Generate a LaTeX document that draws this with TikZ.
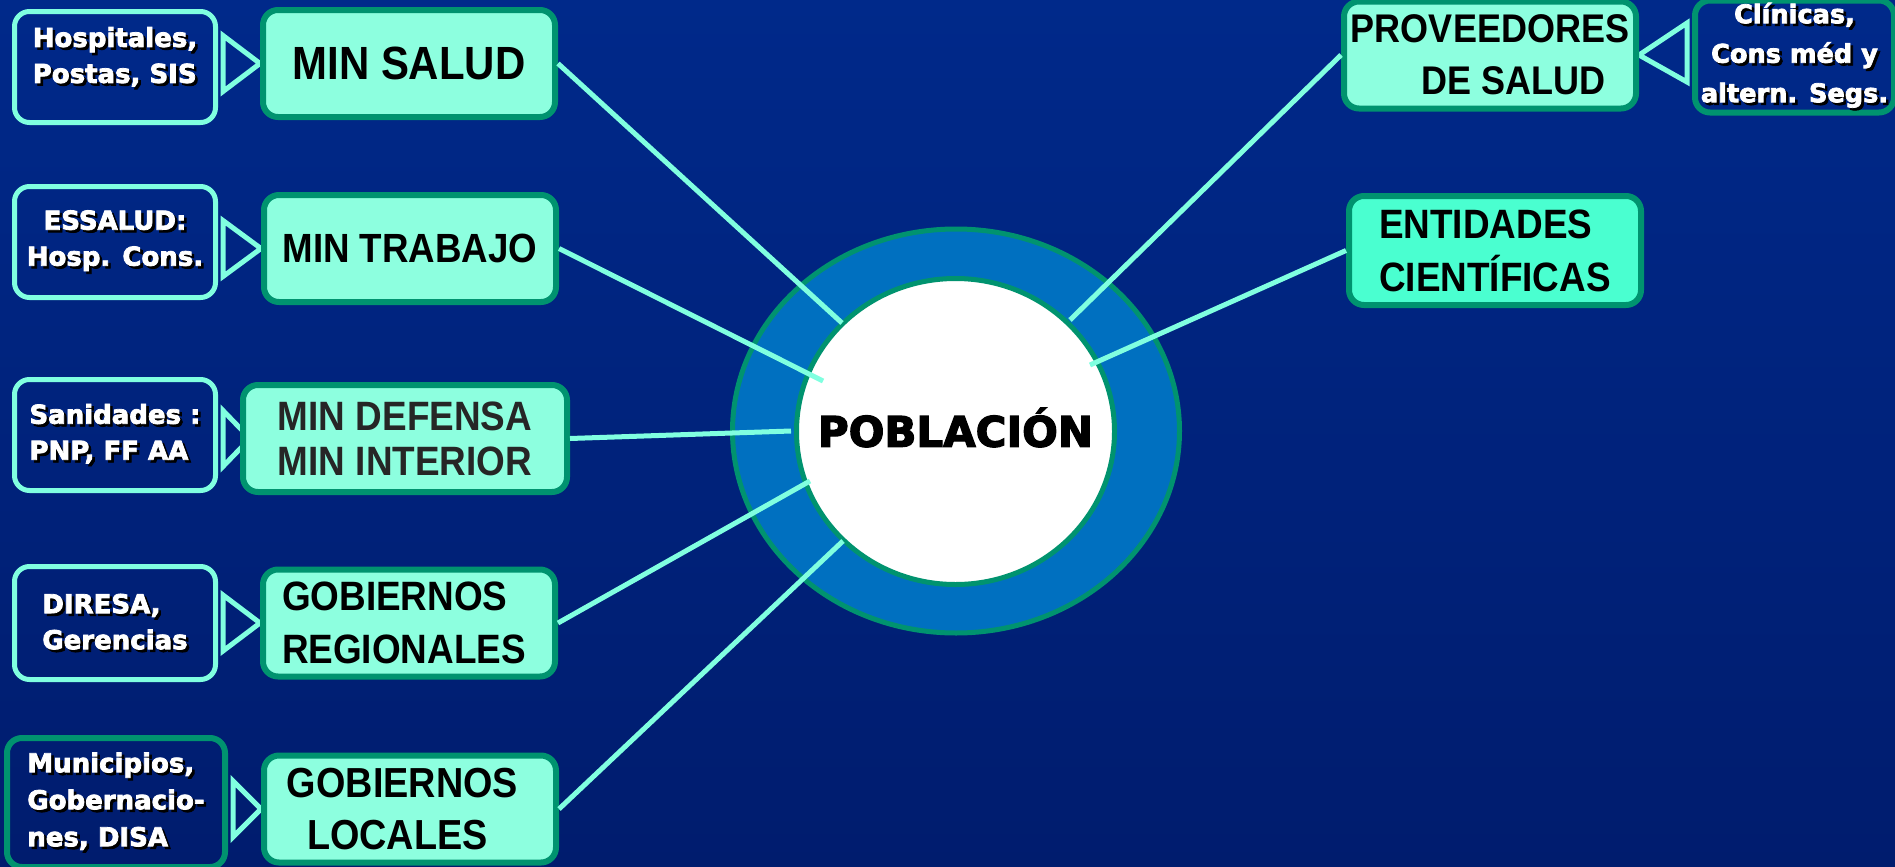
\documentclass[tikz,border=0pt]{standalone}
\usepackage{fontspec}
\setmainfont{Liberation Sans}
\newfontfamily\boxfont[FakeStretch=0.9]{Liberation Sans}
\newfontfamily\heavyfont[FakeBold=3,BoldFeatures={FakeBold=3}]{DejaVu Sans}
\usetikzlibrary{positioning,calc,shapes.geometric}

\definecolor{bgtop}{HTML}{00298A}
\definecolor{bgmid}{HTML}{003399}
\definecolor{bgbot}{HTML}{001C6E}
\definecolor{aqua}{HTML}{8DFFDF}
\definecolor{aquadeep}{HTML}{4AFFD0}
\definecolor{edge}{HTML}{00936F}
\definecolor{cyanline}{HTML}{80FFE0}
\definecolor{ring}{HTML}{0070C0}
\definecolor{darktxt}{HTML}{262626}

\pgfdeclarelayer{bg}
\pgfdeclarelayer{tri}
\pgfsetlayers{bg,tri,main}

\newcommand{\shd}[1]{\rlap{\kern1.3pt\raisebox{-1.3pt}{\color{black}#1}}#1}

\tikzset{
  entity/.style={
    rectangle, rounded corners=7.5pt, draw=edge, line width=3pt,
    fill=aqua, text=black, inner sep=0pt,
    minimum width=146pt, minimum height=53.5pt,
    font=\boxfont\bfseries\fontsize{20.5}{26.5}\selectfont
  },
  detail/.style={
    rectangle, rounded corners=7.5pt, draw=cyanline, line width=2.5pt,
    text=white, inner sep=0pt,
    minimum width=100.5pt, minimum height=55.5pt,
    font=\heavyfont\bfseries\fontsize{13}{18}\selectfont
  },
  pointer/.style={draw=cyanline, line width=2.5pt, line join=miter},
  spoke/.style={draw=cyanline, line width=2.5pt}
}

\begin{document}
\begin{tikzpicture}[x=0.5pt,y=-0.5pt]
\useasboundingbox (0,0) rectangle (1895,867);
\begin{pgfonlayer}{bg}
\shade[top color=bgtop, middle color=bgmid, bottom color=bgbot] (0,0) rectangle (1895,867);
\end{pgfonlayer}

\node[ellipse, draw=edge, line width=2.5pt, fill=ring,
      minimum width=223.5pt, minimum height=202pt] (ring) at (956,431) {};
\node[ellipse, draw=edge, line width=2.5pt, fill=white,
      minimum width=159pt, minimum height=153pt,
      label={[name=pobtxt, yshift=2pt, font=\heavyfont\bfseries\fontsize{21}{26}\selectfont]center:POBLACIÓN}]
  (pob) at (955.5,431.5) {};

\node[detail, align=left, text depth=12pt] (hosp) at (115,67)
  {\shd{Hospitales,}\\\shd{Postas, SIS}};
\node[detail, align=center] (essalud) at (115,242)
  {\shd{ESSALUD:}\\\shd{Hosp. Cons.}};
\node[detail, align=left] (sanid) at (115,435)
  {\shd{Sanidades :}\\\shd{PNP, FF AA}};
\node[detail, align=left, minimum height=56.5pt] (diresa) at (115,623)
  {\shd{DIRESA,}\\\shd{Gerencias}};
\node[detail, align=left, draw=edge, line width=3pt,
      minimum width=109pt, minimum height=64.5pt,
      font=\heavyfont\bfseries\fontsize{13}{18.5}\selectfont] (munic) at (116,802.5)
  {\shd{Municipios,}\\\shd{Gobernacio-}\\\shd{nes, DISA}};
\node[detail, align=center, draw=edge, line width=3pt,
      minimum width=99.5pt, minimum height=56pt,
      font=\heavyfont\bfseries\fontsize{12.8}{19.75}\selectfont] (clin) at (1794.5,56.5)
  {\shd{Clínicas,}\\\shd{Cons méd y}\\\shd{altern. Segs.}};

\node[entity, font=\boxfont\bfseries\fontsize{23.3}{28}\selectfont] (salud) at (409,63.5) {MIN SALUD};
\node[entity, font=\boxfont\bfseries\fontsize{20.4}{26}\selectfont] (trabajo) at (410,248.5) {MIN TRABAJO};
\node[entity, minimum width=162pt, align=left, text=darktxt,
      font=\boxfont\bfseries\fontsize{20.5}{22.5}\selectfont] (defensa) at (405,438.5)
  {MIN DEFENSA\\MIN INTERIOR};
\node[entity, align=left] (gobreg) at (409,623) {GOBIERNOS\hspace*{5pt}\\REGIONALES\hspace*{5pt}};
\node[entity, align=center, font=\boxfont\bfseries\fontsize{21}{26}\selectfont] (gobloc) at (410,809)
  {GOBIERNOS\hspace*{7.5pt}\\LOCALES\hspace*{12.5pt}};
\node[entity, align=center, font=\boxfont\bfseries\fontsize{20}{26}\selectfont] (prov) at (1490,55)
  {PROVEEDORES\\\hspace*{23.5pt}DE SALUD};
\node[entity, align=left, fill=aquadeep, minimum height=54.5pt] (entid) at (1495,250.5)
  {ENTIDADES\\CIENTÍFICAS};

\begin{pgfonlayer}{tri}
\foreach \s/\b/\d in {hosp/salud/0, essalud/trabajo/0, sanid/defensa/10, diresa/gobreg/0, munic/gobloc/0}
  \draw[pointer] ($(\s.east |- \b.west)+(5,-28)$) -- ($(\b.west)+(\d,0)$) -- ($(\s.east |- \b.west)+(5,28)$) -- cycle;
\draw[pointer] ($(clin.west |- prov.east)+(-5,-32)$) -- (prov.east) -- ($(clin.west |- prov.east)+(-5,27)$) -- cycle;
\end{pgfonlayer}

\coordinate (hsalud) at (842,323);
\coordinate (htrabajo) at (823,381);
\coordinate (hdefensa) at (791,431);
\coordinate (hgobreg) at (810,481);
\coordinate (hgobloc) at (843,541);
\coordinate (hprov) at (1070,320);
\coordinate (hentid) at (1090,365);

\draw[spoke] (salud.east) -- (hsalud);
\draw[spoke] (trabajo.east) -- (htrabajo);
\draw[spoke] (defensa.east) -- (hdefensa);
\draw[spoke] (gobreg.east) -- (hgobreg);
\draw[spoke] (gobloc.east) -- (hgobloc);
\draw[spoke] (prov.west) -- (hprov);
\draw[spoke] (entid.west) -- (hentid);
\end{tikzpicture}
\end{document}
